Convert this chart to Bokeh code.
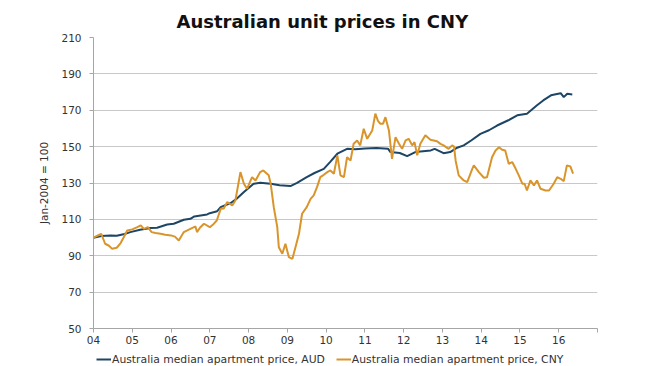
from bokeh.plotting import figure
from bokeh.models import Range1d, FixedTicker, Legend, LegendItem
from bokeh.layouts import column
from bokeh.embed import file_html
from bokeh.resources import INLINE

title_text = "Australian unit prices in CNY"
y_label = "Jan-2004 = 100"
aud_name = "Australia median apartment price, AUD"
cny_name = "Australia median apartment price, CNY"

year_ticks = list(range(2004, 2018))
year_labels = ["04", "05", "06", "07", "08", "09", "10", "11", "12", "13", "14", "15", "16", ""]
y_ticks = [50, 70, 90, 110, 130, 150, 170, 190, 210]

aud_x = [2004.00, 2004.20, 2004.44, 2004.60, 2004.80, 2004.95, 2005.20, 2005.47, 2005.64, 2005.90,
         2006.07, 2006.33, 2006.50, 2006.60, 2006.93, 2007.00, 2007.19, 2007.28, 2007.54, 2007.70,
         2007.88, 2008.13, 2008.30, 2008.57, 2008.80, 2009.08, 2009.25, 2009.50, 2009.70, 2009.94,
         2010.10, 2010.29, 2010.54, 2010.75, 2011.00, 2011.30, 2011.60, 2011.66, 2011.90, 2012.09,
         2012.30, 2012.50, 2012.70, 2012.80, 2013.03, 2013.20, 2013.38, 2013.55, 2013.75, 2013.98,
         2014.20, 2014.41, 2014.70, 2014.93, 2015.18, 2015.44, 2015.60, 2015.80, 2016.05, 2016.13,
         2016.22, 2016.35]
aud_y = [99.9, 100.8, 101.2, 101.0, 102.0, 103.0, 104.3, 105.2, 105.4, 107.2,
         107.6, 109.8, 110.3, 111.6, 112.7, 113.4, 114.5, 116.7, 119.0, 121.5,
         125.0, 129.6, 130.1, 129.6, 128.8, 128.3, 130.1, 133.2, 135.5, 137.8,
         141.5, 146.1, 148.8, 148.5, 149.0, 149.3, 148.8, 147.0, 146.5, 144.8,
         147.0, 147.5, 147.9, 148.8, 146.4, 147.0, 149.4, 150.7, 153.5, 157.0,
         159.0, 161.6, 164.5, 167.2, 168.1, 172.7, 175.4, 178.2, 179.4, 177.2,
         179.1, 178.7]

cny_x = [2004.00, 2004.10, 2004.20, 2004.30, 2004.40, 2004.48, 2004.60, 2004.70, 2004.78, 2004.87,
         2005.00, 2005.13, 2005.22, 2005.30, 2005.40, 2005.50, 2005.60, 2005.73, 2005.85, 2006.00,
         2006.10, 2006.20, 2006.33, 2006.42, 2006.50, 2006.63, 2006.67, 2006.75, 2006.85, 2007.00,
         2007.10, 2007.18, 2007.28, 2007.36, 2007.45, 2007.58, 2007.66, 2007.79, 2007.88, 2007.96,
         2008.09, 2008.18, 2008.30, 2008.38, 2008.52, 2008.57, 2008.65, 2008.74, 2008.78, 2008.87,
         2008.95, 2009.04, 2009.13, 2009.21, 2009.30, 2009.38, 2009.50, 2009.60, 2009.68, 2009.77,
         2009.85, 2009.94, 2010.03, 2010.11, 2010.20, 2010.29, 2010.37, 2010.46, 2010.54, 2010.63,
         2010.71, 2010.80, 2010.88, 2010.97, 2011.06, 2011.19, 2011.27, 2011.34, 2011.40, 2011.47,
         2011.53, 2011.62, 2011.70, 2011.79, 2011.88, 2011.96, 2012.05, 2012.13, 2012.22, 2012.28,
         2012.35, 2012.43, 2012.56, 2012.69, 2012.86, 2012.95, 2013.03, 2013.16, 2013.25, 2013.30,
         2013.34, 2013.42, 2013.55, 2013.64, 2013.77, 2013.81, 2013.94, 2014.07, 2014.15, 2014.28,
         2014.37, 2014.46, 2014.54, 2014.62, 2014.71, 2014.80, 2014.89, 2014.97, 2015.06, 2015.12,
         2015.18, 2015.27, 2015.36, 2015.44, 2015.53, 2015.66, 2015.75, 2015.87, 2015.96, 2016.05,
         2016.13, 2016.21, 2016.30, 2016.37]
cny_y = [100.0, 101.0, 102.0, 96.6, 95.5, 93.8, 94.4, 97.0, 100.2, 103.9,
         104.5, 105.7, 106.7, 104.8, 105.7, 103.0, 102.5, 102.1, 101.5, 101.2,
         100.5, 98.4, 103.0, 104.0, 104.8, 106.1, 103.0, 105.5, 107.6, 105.7,
         107.5, 109.4, 115.8, 116.0, 119.5, 117.7, 120.4, 136.0, 129.6, 126.8,
         133.2, 131.4, 136.0, 136.9, 134.2, 129.6, 116.7, 105.7, 94.7, 91.1,
         96.6, 89.2, 88.3, 94.7, 102.1, 113.1, 116.7, 121.3, 123.2, 128.0,
         133.2, 134.5, 136.0, 136.9, 135.1, 145.2, 134.2, 133.2, 144.2, 142.4,
         151.6, 153.4, 150.7, 159.8, 154.3, 158.9, 168.1, 164.0, 162.6, 162.6,
         166.2, 158.9, 143.3, 155.2, 151.6, 148.8, 153.4, 154.3, 150.7, 152.5,
         145.2, 151.6, 156.2, 153.8, 153.0, 151.5, 150.7, 148.8, 150.7, 150.0,
         142.4, 134.2, 131.4, 130.5, 137.8, 139.7, 136.0, 132.9, 133.2, 144.2,
         147.9, 149.7, 148.3, 147.9, 140.6, 141.5, 137.8, 134.2, 129.6, 129.6,
         125.9, 131.4, 128.7, 131.4, 126.8, 125.9, 125.9, 129.6, 133.2, 132.3,
         131.0, 139.7, 139.1, 135.1]

FONT = "DejaVu Sans"
TEXT_COLOR = "#333333"
AUD_COLOR = "#1d4565"
CNY_COLOR = "#d9952b"

p = figure(width=650, height=350, output_backend="svg", toolbar_location=None,
           x_range=Range1d(2004, 2017), y_range=Range1d(50, 210),
           min_border_left=93, min_border_right=53, min_border_top=37, min_border_bottom=22)

p.title.text = title_text
p.title.align = "left"
p.title.offset = 83
p.title.vertical_align = "top"
p.title.text_font = FONT
p.title.text_font_size = "18px"
p.title.text_font_style = "bold"
p.title.text_color = "#111111"
p.title.standoff = 7

p.outline_line_color = None
p.xgrid.grid_line_color = None
p.ygrid.grid_line_color = "#c8c8c8"
p.ygrid.grid_line_width = 1

p.xaxis.ticker = FixedTicker(ticks=year_ticks)
p.xaxis.major_label_overrides = {t: l for t, l in zip(year_ticks, year_labels)}
p.yaxis.ticker = FixedTicker(ticks=y_ticks)

for ax in (p.xaxis[0], p.yaxis[0]):
    ax.axis_line_color = "#a6a6a6"
    ax.major_tick_line_color = "#a6a6a6"
    ax.major_tick_in = 0
    ax.major_tick_out = 4
    ax.minor_tick_line_color = None
    ax.major_label_text_font = FONT
    ax.major_label_text_font_size = "10.5px"
    ax.major_label_text_color = TEXT_COLOR

p.yaxis.major_label_standoff = 8
p.xaxis.major_label_standoff = 3
p.yaxis.axis_label = y_label
p.yaxis.axis_label_text_font = FONT
p.yaxis.axis_label_text_font_size = "10.5px"
p.yaxis.axis_label_text_font_style = "normal"
p.yaxis.axis_label_text_color = TEXT_COLOR
p.yaxis.axis_label_standoff = 8

p.line(aud_x, aud_y, line_color=AUD_COLOR, line_width=2)
p.line(cny_x, cny_y, line_color=CNY_COLOR, line_width=2)

# legend strip under the chart (its frame is aligned with the main frame by the column)
lg = figure(width=650, height=16, output_backend="svg", toolbar_location=None,
            x_axis_type=None, y_axis_type=None, min_border=0,
            x_range=Range1d(0, 1), y_range=Range1d(0, 1))
lg.outline_line_color = None
lg.grid.visible = False
k_aud = lg.line(aud_x[:1], aud_y[:1], line_color=AUD_COLOR, line_width=2)
k_cny = lg.line(cny_x[:1], cny_y[:1], line_color=CNY_COLOR, line_width=2)
legend = Legend(items=[LegendItem(label=aud_name, renderers=[k_aud]),
                       LegendItem(label=cny_name, renderers=[k_cny])],
                orientation="horizontal", location=(3, 0),
                glyph_width=15, glyph_height=14, label_height=14,
                label_standoff=1, spacing=11, padding=0, margin=0,
                border_line_color=None, background_fill_alpha=0,
                label_text_font=FONT, label_text_font_size="10.8px",
                label_text_color=TEXT_COLOR)
lg.add_layout(legend, "center")

layout = column(p, lg, spacing=0)
open("out.html", "w").write(file_html(layout, INLINE))
